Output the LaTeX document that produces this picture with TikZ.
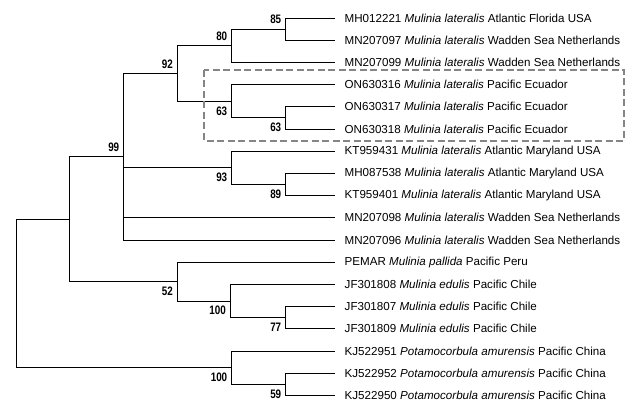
\documentclass[tikz,border=0pt]{standalone}
\usepackage{fontspec}
\setmainfont{Liberation Sans}
\newfontfamily\bootfont[FakeStretch=0.8]{Liberation Sans}
\usepackage{xcolor}
\usetikzlibrary{calc}
\definecolor{boxgray}{HTML}{858585}

\begin{document}
\begin{tikzpicture}[x=1pt,y=-1pt,
    branch/.style={black, line width=0.9pt},
    leaf/.style={anchor=west, inner xsep=9.5pt, inner ysep=0pt, font=\fontsize{11.6}{14}\selectfont},
    boot/.style={inner xsep=4.3pt, inner ysep=5pt, font=\bootfont\bfseries\fontsize{12.3}{14}\selectfont},
    clade/.style={boxgray, line width=2.2pt, dash pattern=on 7pt off 3.5pt}]
    \useasboundingbox (0,0) rectangle (640,407);
    % Draw leaf labels
    \foreach \i/\acc/\sp/\loc in {
        1/MH012221/Mulinia lateralis/Atlantic Florida USA,
        2/MN207097/Mulinia lateralis/Wadden Sea Netherlands,
        3/MN207099/Mulinia lateralis/Wadden Sea Netherlands,
        4/ON630316/Mulinia lateralis/Pacific Ecuador,
        5/ON630317/Mulinia lateralis/Pacific Ecuador,
        6/ON630318/Mulinia lateralis/Pacific Ecuador,
        7/KT959431/Mulinia lateralis/Atlantic Maryland USA,
        8/MH087538/Mulinia lateralis/Atlantic Maryland USA,
        9/KT959401/Mulinia lateralis/Atlantic Maryland USA,
        10/MN207098/Mulinia lateralis/Wadden Sea Netherlands,
        11/MN207096/Mulinia lateralis/Wadden Sea Netherlands,
        12/PEMAR/Mulinia pallida/Pacific Peru,
        13/JF301808/Mulinia edulis/Pacific Chile,
        14/JF301807/Mulinia edulis/Pacific Chile,
        15/JF301809/Mulinia edulis/Pacific Chile,
        16/KJ522951/Potamocorbula amurensis/Pacific China,
        17/KJ522952/Potamocorbula amurensis/Pacific China,
        18/KJ522950/Potamocorbula amurensis/Pacific China}
    {
        \node[leaf] (l\i) at (335,{18+(\i-1)*22.2}) {\acc\ \textit{\sp} \loc};
    }
    % Draw internal nodes
    \coordinate (n85) at (285.7,29.1);
    \coordinate (n80) at (231.7,45.75);
    \coordinate (n63b) at (285.7,117.9);
    \coordinate (n63a) at (231.7,101.25);
    \coordinate (n92) at (177.3,73.5);
    \coordinate (n89) at (285.7,184.5);
    \coordinate (n93) at (231.7,167.85);
    \coordinate (n99) at (123.7,156.75);
    \coordinate (n77) at (285.7,317.7);
    \coordinate (n100a) at (230.3,301.05);
    \coordinate (n52) at (177.3,281.6);
    \coordinate (nmul) at (69.3,219.2);
    \coordinate (n59) at (285.7,384.3);
    \coordinate (n100b) at (231.7,367.65);
    \coordinate (root) at (16.3,293.4);
    % Draw branches
    \foreach \p/\c in {n85/l1.west, n85/l2.west, n80/n85, n80/l3.west,
        n63b/l5.west, n63b/l6.west, n63a/l4.west, n63a/n63b,
        n92/n80, n92/n63a, n89/l8.west, n89/l9.west, n93/l7.west, n93/n89,
        n99/n92, n99/n93, n99/l10.west, n99/l11.west,
        n77/l14.west, n77/l15.west, n100a/l13.west, n100a/n77,
        n52/l12.west, n52/n100a, nmul/n99, nmul/n52,
        n59/l17.west, n59/l18.west, n100b/l16.west, n100b/n59,
        root/nmul, root/n100b}
    {
        \draw[branch] (\p) |- (\c);
    }
    % Bootstrap values
    \node[boot, anchor=south east] (b85) at (n85) {85};
    \node[boot, anchor=south east] (b80) at (n80) {80};
    \node[boot, anchor=south east] (b92) at (n92) {92};
    \node[boot, anchor=south east] (b99) at (n99) {99};
    \node[boot, anchor=north east] (b63a) at (n63a) {63};
    \node[boot, anchor=north east] (b63b) at (n63b) {63};
    \node[boot, anchor=north east] (b93) at (n93) {93};
    \node[boot, anchor=north east] (b89) at (n89) {89};
    \node[boot, anchor=north east] (b52) at (n52) {52};
    \node[boot, anchor=north east] (b100a) at (n100a) {100};
    \node[boot, anchor=north east] (b77) at (n77) {77};
    \node[boot, anchor=north east] (b100b) at (n100b) {100};
    \node[boot, anchor=north east] (b59) at (n59) {59};
    % Pacific Ecuador clade
    \draw[clade] (204.3,69.7) rectangle (624,140.7);
\end{tikzpicture}
\end{document}
